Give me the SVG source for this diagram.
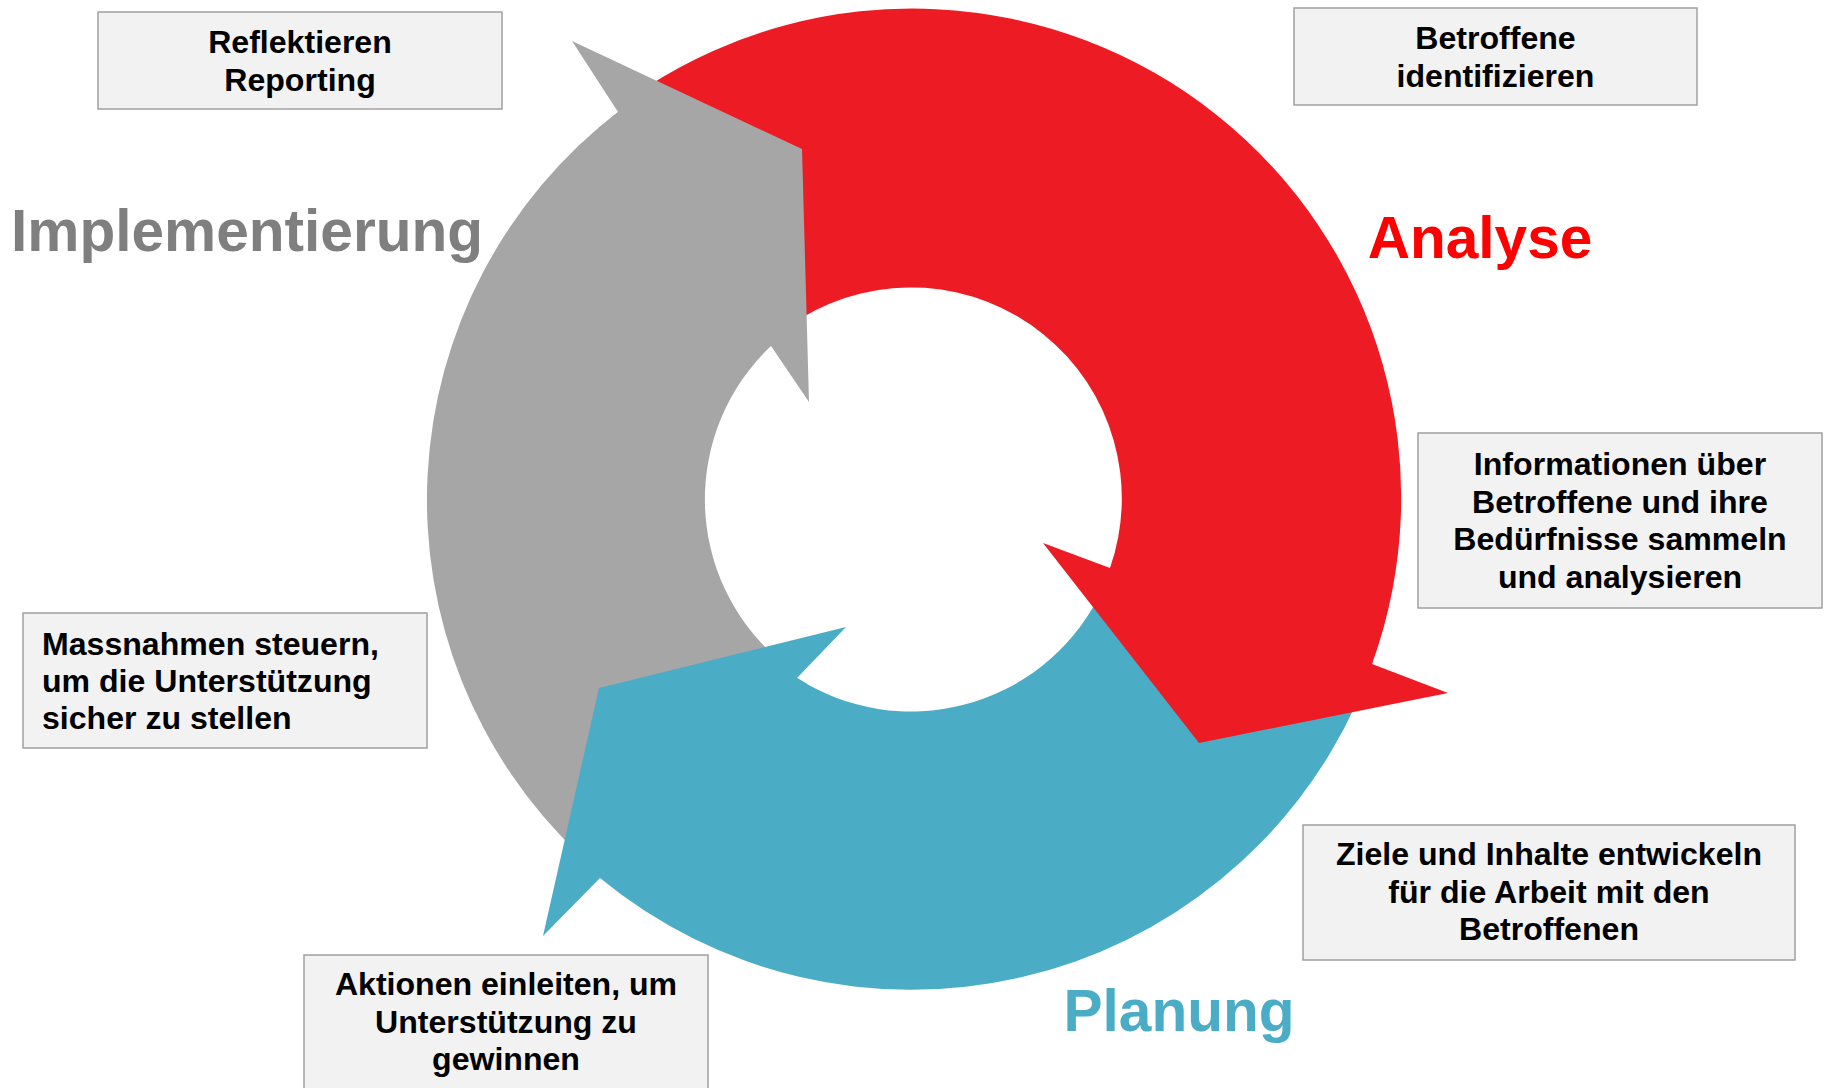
<svg xmlns="http://www.w3.org/2000/svg" width="1827" height="1088" viewBox="0 0 1827 1088">
<style>
.box{fill:#F2F2F2;stroke:#A0A0A0;stroke-width:1.5}
.bt{font-family:"Liberation Sans",Arial,sans-serif;font-weight:bold;font-size:32.1px;fill:#000}
.c{text-anchor:middle}
.title{font-family:"Liberation Sans",Arial,sans-serif;font-weight:bold;font-size:58.6px}
.red{fill:#ED1C24}
.gray{fill:#A6A6A6}
.blue{fill:#4BACC6}
</style>
<rect width="1827" height="1088" fill="#fff"/>
<g id="connectors">
  <g id="arrow-bodies">
    <path id="body-analyse" class="red" d="M646.7,86.9 A489,489 0 0 1 1372,664 L1110,568 A211,211 0 0 0 801.2,318.1 Z"/>
    <path id="body-planung" class="blue" d="M1097.5,599.3 L1356.2,703.7 A489,489 0 0 1 600,878 L797,678 A211,211 0 0 0 1097.5,599.3 Z"/>
    <path id="body-implementierung" class="gray" d="M579.5,854.6 A489,489 0 0 1 618,112 L771,346 A211,211 0 0 0 777.4,658.6 Z"/>
  </g>
  <g id="arrow-heads">
    <polygon id="head-analyse" class="red" points="1043,543 1199,743 1448,693 1372,664 1376.8,638.8 1119.1,558.1 1110,568"/>
    <polygon id="head-planung" class="blue" points="846,627 599,688 543,936 600,878 624.6,886.9 807.1,684.1 797,678"/>
    <polygon id="head-implementierung" class="gray" points="572,41 802,149 809,402 771,346 758.3,347.6 598,128.2 618,112"/>
  </g>
</g>
<g id="title-implementierung"><text class="title" x="11" y="251" fill="#7F7F7F">Implementierung</text></g>
<g id="title-analyse"><text class="title c" x="1480" y="258" fill="#FF0000">Analyse</text></g>
<g id="title-planung"><text class="title c" x="1179" y="1031" fill="#4BACC6">Planung</text></g>
<g id="node-reflektieren">
  <rect class="box" x="98" y="12" width="404" height="97"/>
  <text class="bt c" x="300" y="53">Reflektieren</text>
  <text class="bt c" x="300" y="91">Reporting</text>
</g>
<g id="node-betroffene">
  <rect class="box" x="1294" y="8" width="403" height="97"/>
  <text class="bt c" x="1495.5" y="49">Betroffene</text>
  <text class="bt c" x="1495.5" y="87">identifizieren</text>
</g>
<g id="node-informationen">
  <rect class="box" x="1418" y="433" width="404" height="175"/>
  <text class="bt c" x="1620" y="475">Informationen über</text>
  <text class="bt c" x="1620" y="513">Betroffene und ihre</text>
  <text class="bt c" x="1620" y="550">Bedürfnisse sammeln</text>
  <text class="bt c" x="1620" y="588">und analysieren</text>
</g>
<g id="node-massnahmen">
  <rect class="box" x="23" y="613" width="404" height="135"/>
  <text class="bt" x="42" y="655">Massnahmen steuern,</text>
  <text class="bt" x="42" y="692">um die Unterstützung</text>
  <text class="bt" x="42" y="729">sicher zu stellen</text>
</g>
<g id="node-ziele">
  <rect class="box" x="1303" y="825" width="492" height="135"/>
  <text class="bt c" x="1549" y="865">Ziele und Inhalte entwickeln</text>
  <text class="bt c" x="1549" y="903">für die Arbeit mit den</text>
  <text class="bt c" x="1549" y="940">Betroffenen</text>
</g>
<g id="node-aktionen">
  <rect class="box" x="304" y="955" width="404" height="150"/>
  <text class="bt c" x="506" y="995">Aktionen einleiten, um</text>
  <text class="bt c" x="506" y="1033">Unterstützung zu</text>
  <text class="bt c" x="506" y="1070">gewinnen</text>
</g>
</svg>
